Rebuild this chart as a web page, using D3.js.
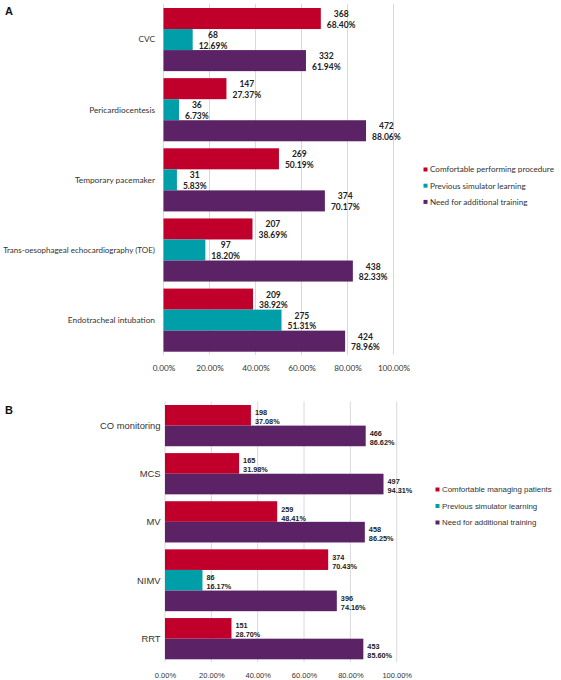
<!DOCTYPE html>
<html>
<head>
<meta charset="utf-8">
<script src="https://cdn.jsdelivr.net/npm/d3@7"></script>
<style>
    body { margin: 0; background: #fff; }
    svg { display: block; }
</style>
</head>
<body>
<svg width="561" height="680"></svg>
<script>
// panel A data
const categoriesA = ['CVC', 'Pericardiocentesis', 'Temporary pacemaker', 'Trans-oesophageal echocardiography (TOE)', 'Endotracheal intubation']
const comfortableA = [368, 147, 269, 207, 209]
const comfortableAPct = [68.40, 27.37, 50.19, 38.69, 38.92]
const simulatorA = [68, 36, 31, 97, 275]
const simulatorAPct = [12.69, 6.73, 5.83, 18.20, 51.31]
const trainingA = [332, 472, 374, 438, 424]
const trainingAPct = [61.94, 88.06, 70.17, 82.33, 78.96]
const legendA = ['Comfortable performing procedure', 'Previous simulator learning', 'Need for additional training']

// panel B data (no simulator bar where value is null)
const categoriesB = ['CO monitoring', 'MCS', 'MV', 'NIMV', 'RRT']
const comfortableB = [198, 165, 259, 374, 151]
const comfortableBPct = [37.08, 31.98, 48.41, 70.43, 28.70]
const simulatorB = [null, null, null, 86, null]
const simulatorBPct = [null, null, null, 16.17, null]
const trainingB = [466, 497, 458, 396, 453]
const trainingBPct = [86.62, 94.31, 86.25, 74.16, 85.60]
const legendB = ['Comfortable managing patients', 'Previous simulator learning', 'Need for additional training']

const ticks = [0, 20, 40, 60, 80, 100]
const colors = ['#c0002a', '#009ea8', '#5b2366']

const svg = d3.select('svg')
const lato = "Lato, 'Open Sans', sans-serif"
const arial = "'Liberation Sans', Arial, sans-serif"

function drawPanel(o) {
    const series = [
        { counts: o.comfortable, pct: o.comfortablePct, color: colors[0] },
        { counts: o.simulator, pct: o.simulatorPct, color: colors[1] },
        { counts: o.training, pct: o.trainingPct, color: colors[2] }
    ]

    // each bar takes one unit, each gap between groups a third of one
    const bars = []
    const groups = []
    let units = 0
    o.categories.forEach((c, i) => {
        if (i > 0) units += 1 / 3
        const start = units
        series.forEach(s => {
            if (s.counts[i] == null) return
            bars.push({ start: units, count: s.counts[i], pct: s.pct[i], color: s.color })
            units += 1
        })
        groups.push({ name: c, start: start, end: units })
    })

    const x = d3.scaleLinear().domain([0, 100]).range([o.x0, o.x1])
    const y = d3.scaleLinear().domain([0, units]).range([o.top, o.bottom])

    const g = svg.append('g')

    //grid
    g.selectAll('.grid')
        .data(ticks)
        .enter()
        .append('line')
        .attr('x1', d => x(d))
        .attr('x2', d => x(d))
        .attr('y1', o.gridTop)
        .attr('y2', o.gridBottom)
        .attr('stroke', '#d9d9d9')
        .attr('stroke-width', 1)

    //axis
    const xAxis = d3.axisBottom(x)
        .tickValues(ticks)
        .tickSize(0)
        .tickFormat(d => d.toFixed(2) + '%')
    const ax = g.append('g')
        .attr('transform', 'translate(0,' + o.axisY + ')')
        .call(xAxis)
    ax.select('.domain').remove()
    ax.selectAll('text')
        .attr('fill', '#333')
        .style('font-family', o.font)
        .style('font-size', o.tickSize + 'px')

    //bars
    g.selectAll('.bar')
        .data(bars)
        .enter()
        .append('rect')
        .attr('x', x(0))
        .attr('y', d => y(d.start))
        .attr('width', d => x(d.pct) - x(0))
        .attr('height', d => y(d.start + 1) - y(d.start))
        .attr('fill', d => d.color)

    //value labels
    bars.forEach(d => {
        const cy = (y(d.start) + y(d.start + 1)) / 2
        const t = g.append('text')
            .attr('font-family', o.font)
            .attr('font-size', o.valueSize + 'px')
            .attr('font-weight', 'bold')
            .attr('fill', '#222')
            .attr('text-anchor', o.centerValues ? 'middle' : 'start')
        t.append('tspan').attr('x', 0).attr('y', cy + o.line1).text(d.count)
        const t2 = t.append('tspan').attr('x', 0).attr('y', cy + o.line2).text(d.pct.toFixed(2) + '%')
        const off = o.centerValues ? t2.node().getComputedTextLength() / 2 : 0
        t.attr('transform', 'translate(' + (x(d.pct) + o.valueGap + off) + ',0)')
    })

    //category labels, shrunk if wider than the space left of the plot
    g.selectAll('.cat')
        .data(groups)
        .enter()
        .append('text')
        .attr('x', o.labelX)
        .attr('y', d => (y(d.start) + y(d.end)) / 2 + o.catSize * 0.35)
        .attr('text-anchor', 'end')
        .attr('font-family', o.font)
        .attr('font-size', o.catSize + 'px')
        .attr('fill', '#333')
        .text(d => d.name)
        .each(function () {
            const len = this.getComputedTextLength()
            const room = o.labelX - 3
            if (len > room) d3.select(this).attr('font-size', (o.catSize * room / len) + 'px')
        })

    //legend
    o.legend.forEach((l, i) => {
        const ly = o.legendY + i * o.legendStep
        g.append('rect')
            .attr('x', o.legendX)
            .attr('y', ly - 2)
            .attr('width', 4)
            .attr('height', 4)
            .attr('fill', colors[i])
        g.append('text')
            .attr('x', o.legendX + 6.5)
            .attr('y', ly + o.legendSize * 0.35)
            .attr('font-family', o.font)
            .attr('font-size', o.legendSize + 'px')
            .attr('fill', '#333')
            .text(l)
    })

    //panel letter
    g.append('text')
        .attr('x', 5)
        .attr('y', o.letterY)
        .attr('font-family', arial)
        .attr('font-weight', 'bold')
        .attr('font-size', '11px')
        .attr('fill', '#111')
        .text(o.letter)
}

drawPanel({
    letter: 'A', letterY: 15,
    categories: categoriesA,
    comfortable: comfortableA, comfortablePct: comfortableAPct,
    simulator: simulatorA, simulatorPct: simulatorAPct,
    training: trainingA, trainingPct: trainingAPct,
    legend: legendA,
    x0: 163.5, x1: 393.5, top: 8, bottom: 351.7,
    gridTop: 4, gridBottom: 355, axisY: 362,
    font: lato, tickSize: 8.2, valueSize: 8.5, catSize: 8.3, legendSize: 8.1,
    centerValues: true, valueGap: 6, line1: -1.5, line2: 9.3,
    labelX: 155,
    legendX: 423.5, legendY: 169.5, legendStep: 16.2
})

drawPanel({
    letter: 'B', letterY: 414,
    categories: categoriesB,
    comfortable: comfortableB, comfortablePct: comfortableBPct,
    simulator: simulatorB, simulatorPct: simulatorBPct,
    training: trainingB, trainingPct: trainingBPct,
    legend: legendB,
    x0: 165, x1: 396.7, top: 405, bottom: 659.3,
    gridTop: 401.5, gridBottom: 662, axisY: 670,
    font: arial, tickSize: 7.5, valueSize: 7.3, catSize: 9.4, legendSize: 7.9,
    centerValues: false, valueGap: 4, line1: 0, line2: 9,
    labelX: 160.5,
    legendX: 435.5, legendY: 489.5, legendStep: 16.5
})
</script>
</body>
</html>
